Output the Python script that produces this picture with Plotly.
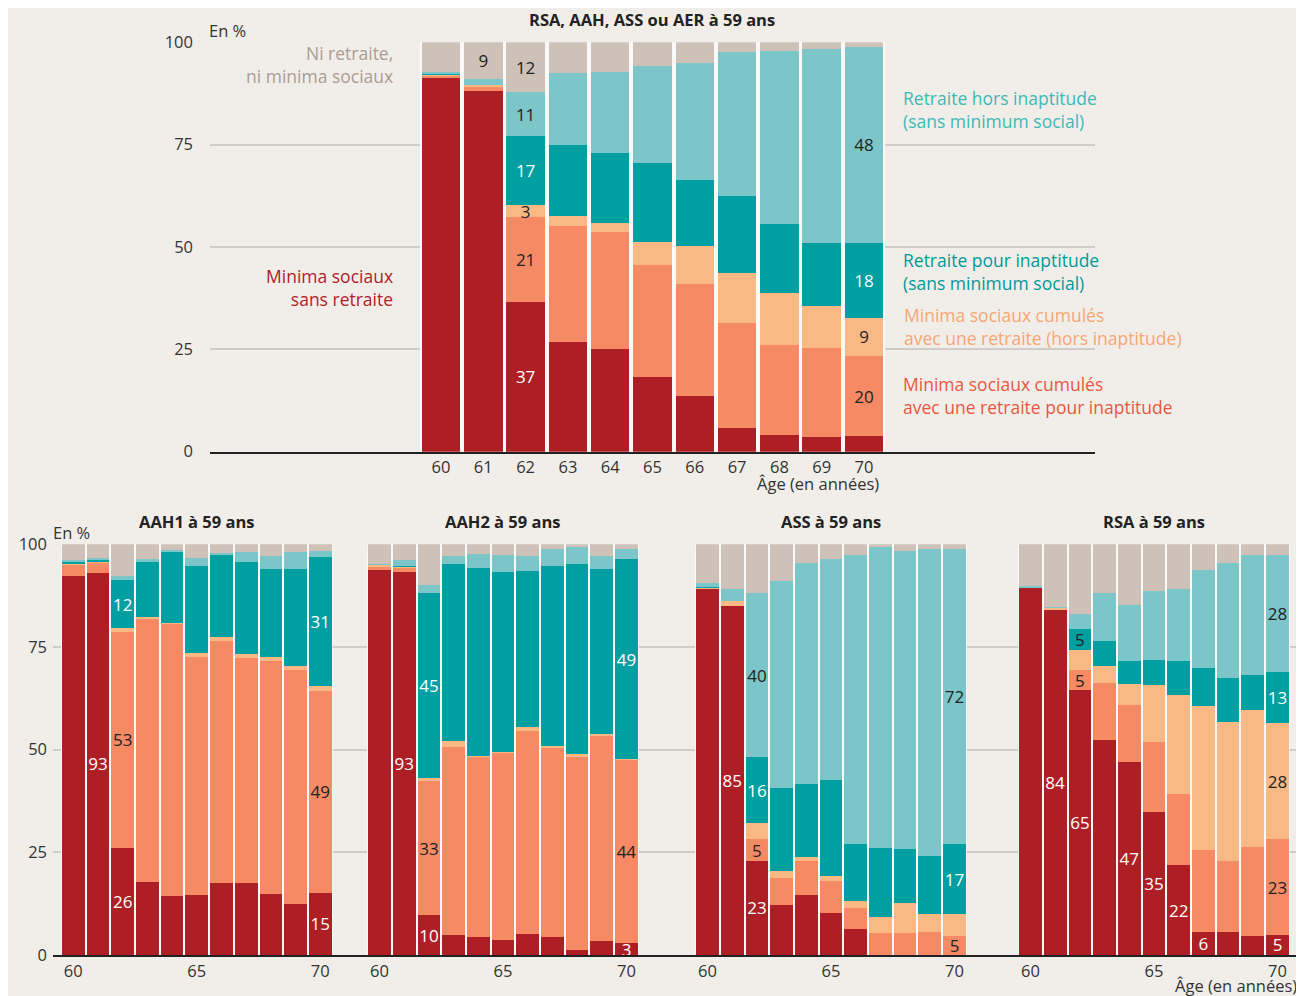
import plotly.graph_objects as go

# ---------------- DATA ----------------
ages = [60, 61, 62, 63, 64, 65, 66, 67, 68, 69, 70]
series_names = ["Minima sociaux sans retraite",
                "Minima sociaux cumulés avec une retraite pour inaptitude",
                "Minima sociaux cumulés avec une retraite (hors inaptitude)",
                "Retraite pour inaptitude (sans minimum social)",
                "Retraite hors inaptitude (sans minimum social)",
                "Ni retraite, ni minima sociaux"]

# Panel: RSA, AAH, ASS ou AER à 59 ans
all_red = [91.2, 88.2, 36.5, 26.9, 25.1, 18.3, 13.6, 5.8, 4.2, 3.5, 3.8]
all_salmon = [0.6, 0.8, 20.8, 28.2, 28.6, 27.2, 27.4, 25.6, 21.9, 21.9, 19.6]
all_lorange = [0.3, 0.5, 2.9, 2.5, 2.2, 5.8, 9.3, 12.3, 12.7, 10.2, 9.3]
all_dteal = [0.2, 0.0, 16.8, 17.3, 17.1, 19.2, 16.1, 18.8, 16.9, 15.5, 18.3]
all_lteal = [0.4, 1.5, 10.8, 17.7, 19.8, 23.6, 28.6, 35.1, 42.2, 47.3, 47.9]
all_gray = [7.3, 9.0, 12.2, 7.4, 7.2, 5.9, 5.0, 2.4, 2.1, 1.6, 1.1]
all_labels = [(0, 62, "37"), (1, 62, "21"), (2, 62, "3"), (3, 62, "17"), (4, 62, "11"),
              (5, 62, "12"), (5, 61, "9"),
              (1, 70, "20"), (2, 70, "9"), (3, 70, "18"), (4, 70, "48")]

# Panel: AAH1 à 59 ans
aah1_red = [92.3, 93.1, 26.1, 17.8, 14.4, 14.6, 17.5, 17.5, 14.9, 12.4, 15.1]
aah1_salmon = [2.8, 2.4, 52.6, 64.1, 66.2, 58.0, 59.0, 54.8, 56.7, 57.0, 49.2]
aah1_lorange = [0.2, 0.2, 0.9, 0.4, 0.2, 0.9, 0.9, 1.0, 1.0, 1.0, 1.2]
aah1_dteal = [0.4, 0.6, 11.7, 13.4, 17.3, 21.2, 20.0, 22.4, 21.4, 23.6, 31.4]
aah1_lteal = [0.5, 0.4, 1.0, 0.7, 0.5, 2.0, 0.5, 2.4, 3.2, 4.1, 1.5]
aah1_gray = [3.8, 3.3, 7.7, 3.6, 1.4, 3.3, 2.1, 1.9, 2.8, 1.9, 1.6]
aah1_labels = [(0, 61, "93"), (0, 62, "26"), (1, 62, "53"), (3, 62, "12"),
               (0, 70, "15"), (1, 70, "49"), (3, 70, "31")]

# Panel: AAH2 à 59 ans
aah2_red = [93.8, 93.3, 9.7, 4.9, 4.4, 3.7, 5.1, 4.4, 1.2, 3.4, 2.9]
aah2_salmon = [0.7, 0.9, 32.7, 45.7, 43.8, 45.5, 49.4, 46.0, 47.0, 49.9, 44.6]
aah2_lorange = [0.5, 0.2, 0.7, 1.5, 0.3, 0.2, 1.0, 0.5, 0.7, 0.5, 0.2]
aah2_dteal = [0.1, 0.3, 45.0, 43.1, 45.7, 43.9, 38.0, 43.8, 46.3, 40.2, 48.7]
aah2_lteal = [0.2, 1.5, 2.0, 2.0, 3.4, 4.1, 3.7, 4.2, 4.2, 3.2, 2.5]
aah2_gray = [4.7, 3.8, 9.9, 2.8, 2.4, 2.6, 2.8, 1.1, 0.6, 2.8, 1.1]
aah2_labels = [(0, 61, "93"), (0, 62, "10"), (1, 62, "33"), (3, 62, "45"),
               (0, 70, "3"), (1, 70, "44"), (3, 70, "49")]

# Panel: ASS à 59 ans
ass_red = [89.1, 85.0, 22.9, 12.2, 14.6, 10.2, 6.3, 0.0, 0.0, 0.0, 0.0]
ass_salmon = [0.1, 0.0, 5.3, 6.6, 8.3, 7.8, 5.1, 5.4, 5.4, 5.6, 4.6]
ass_lorange = [0.2, 1.2, 3.9, 1.7, 1.0, 1.2, 1.7, 3.9, 7.3, 4.4, 5.4]
ass_dteal = [0.2, 0.0, 16.1, 20.2, 17.7, 23.4, 13.9, 16.8, 13.1, 14.1, 17.0]
ass_lteal = [1.0, 2.9, 39.9, 50.4, 53.9, 53.8, 70.4, 73.3, 72.6, 74.8, 71.9]
ass_gray = [9.4, 10.9, 11.9, 8.9, 4.5, 3.6, 2.6, 0.6, 1.6, 1.1, 1.1]
ass_labels = [(0, 61, "85"), (0, 62, "23"), (1, 62, "5"), (3, 62, "16"), (4, 62, "40"),
              (1, 70, "5"), (3, 70, "17"), (4, 70, "72")]

# Panel: RSA à 59 ans
rsa_red = [89.4, 84.0, 64.5, 52.4, 47.0, 34.8, 21.9, 5.6, 5.6, 4.6, 4.9]
rsa_salmon = [0.0, 0.0, 4.9, 13.8, 13.9, 17.1, 17.3, 20.0, 17.3, 21.7, 23.3]
rsa_lorange = [0.0, 0.5, 4.9, 4.2, 5.1, 13.8, 24.1, 35.0, 33.8, 33.4, 28.3]
rsa_dteal = [0.0, 0.0, 5.1, 6.1, 5.6, 6.1, 8.3, 9.3, 10.8, 8.5, 12.4]
rsa_lteal = [0.5, 0.2, 3.6, 11.6, 13.6, 16.8, 17.5, 23.9, 28.0, 29.2, 28.5]
rsa_gray = [10.1, 15.3, 17.0, 11.9, 14.8, 11.4, 10.9, 6.2, 4.5, 2.6, 2.6]
rsa_labels = [(0, 61, "84"), (0, 62, "65"), (1, 62, "5"), (3, 62, "5", "dark"),
              (0, 64, "47"), (0, 65, "35"), (0, 66, "22"), (0, 67, "6"),
              (0, 70, "5"), (1, 70, "23"), (2, 70, "28"), (3, 70, "13"), (4, 70, "28")]

panel_titles = ["RSA, AAH, ASS ou AER à 59 ans", "AAH1 à 59 ans", "AAH2 à 59 ans",
                "ASS à 59 ans", "RSA à 59 ans"]
y_ticks = [0, 25, 50, 75, 100]

# ---------------- STYLE ----------------
W, H = 1304, 996
OX, OY = 8, 8          # page (body) offset of the figure in the browser
BG = "#F1EEEA"
COLORS = ["#AE1F25", "#F58A64", "#F9B985", "#009FA1", "#7CC5C8", "#CEC1B8"]
LABEL_COLORS = ["white", "#222222", "#222222", "white", "#222222", "#222222"]
DARK = "#222222"
FONT = "Open Sans"
GRID = "#CFCCC9"


def px(x):
    return (x - OX) / W


def py(y):
    return 1 - (y - OY) / H


panels = [
    ([all_red, all_salmon, all_lorange, all_dteal, all_lteal, all_gray], all_labels),
    ([aah1_red, aah1_salmon, aah1_lorange, aah1_dteal, aah1_lteal, aah1_gray], aah1_labels),
    ([aah2_red, aah2_salmon, aah2_lorange, aah2_dteal, aah2_lteal, aah2_gray], aah2_labels),
    ([ass_red, ass_salmon, ass_lorange, ass_dteal, ass_lteal, ass_gray], ass_labels),
    ([rsa_red, rsa_salmon, rsa_lorange, rsa_dteal, rsa_lteal, rsa_gray], rsa_labels),
]

# pixel geometry: (domain left px, domain right px, centre px of age 60, spacing px)
geo = [
    (210, 1095, 441.0, 42.3),
    (53, 350, 73.3, 24.7),
    (350, 667, 379.5, 24.7),
    (667, 994, 707.5, 24.7),
    (994, 1300, 1030.5, 24.7),
]
top_y = (451.7, 42.3)   # pixel of 0 and 100
bot_y = (955.0, 544.3)

fig = go.Figure()
layout = dict()
shapes = []
annotations = []

for p, (series, labels) in enumerate(panels):
    axn = "" if p == 0 else str(p + 1)
    xref, yref = "x" + axn, "y" + axn
    lab = {}
    for item in labels:
        lab[(item[0], item[1])] = item
    for s, vals in enumerate(series):
        texts, tcols = [], []
        for a in ages:
            item = lab.get((s, a))
            if item:
                texts.append(item[2])
                tcols.append(DARK if len(item) > 3 else LABEL_COLORS[s])
            else:
                texts.append("")
                tcols.append(LABEL_COLORS[s])
        fig.add_trace(go.Bar(
            x=ages, y=vals, xaxis=xref, yaxis=yref, name=series_names[s],
            marker=dict(color=COLORS[s], line=dict(width=0)),
            width=0.91 if p == 0 else 0.92,
            text=texts, textposition="inside", insidetextanchor="middle",
            textangle=0, textfont=dict(family=FONT, size=17, color=tcols),
            hoverinfo="skip", showlegend=False,
        ))
    l, r, c60, sp = geo[p]
    xr = [ages[0] + (l - c60) / sp, ages[0] + (r - c60) / sp]
    y0, y100 = top_y if p == 0 else bot_y
    layout["xaxis" + axn] = dict(
        domain=[px(l), px(r)], range=xr, anchor=yref,
        tickvals=ages if p == 0 else [60, 65, 70],
        ticks="", showgrid=False, zeroline=False,
        showline=True, linecolor=DARK, linewidth=1.5,
        tickfont=dict(family=FONT, size=16.5, color="#333333"),
        ticklabelstandoff=0, fixedrange=True,
    )
    layout["yaxis" + axn] = dict(
        domain=[py(y0), py(y100)], range=[0, 100], anchor=xref,
        tickvals=y_ticks, showticklabels=(p <= 1), ticks="",
        showgrid=True, gridcolor=GRID, gridwidth=1.5, zeroline=False,
        tickfont=dict(family=FONT, size=16.5, color="#333333"),
        ticklabelstandoff=16 if p == 0 else 5, fixedrange=True,
    )
    # white background behind the bar block (gaps between bars appear white)
    shapes.append(dict(type="rect", xref=xref, yref=yref, layer="between",
                       x0=ages[0] - 0.5, x1=ages[-1] + 0.5, y0=0, y1=100,
                       fillcolor="#FAF9F7", line=dict(width=0)))
    # panel title
    if p == 0:
        annotations.append(dict(text="<b>" + panel_titles[p] + "</b>", x=px(652), y=py(19),
                                xref="paper", yref="paper", showarrow=False,
                                xanchor="center", yanchor="middle",
                                font=dict(family=FONT, size=16.5, color="#222222")))
    else:
        annotations.append(dict(text="<b>" + panel_titles[p] + "</b>", x=65, y=py(521),
                                xref=xref, yref="paper", showarrow=False,
                                xanchor="center", yanchor="middle",
                                font=dict(family=FONT, size=16.5, color="#222222")))

# "En %" and axis titles
annotations += [
    dict(text="En %", x=px(207), y=py(30), xanchor="left", yanchor="middle",
         xref="paper", yref="paper",
         showarrow=False, font=dict(family=FONT, size=16.5, color="#333333")),
    dict(text="En %", x=px(51), y=py(532), xanchor="left", yanchor="middle",
         xref="paper", yref="paper",
         showarrow=False, font=dict(family=FONT, size=16.5, color="#333333")),
    dict(text="Âge (en années)", x=px(881), y=py(484), xanchor="right", yanchor="middle",
         xref="paper", yref="paper", showarrow=False,
         font=dict(family=FONT, size=16.5, color="#333333")),
    dict(text="Âge (en années)", x=px(1299), y=py(985), xanchor="right", yanchor="middle",
         xref="paper", yref="paper", showarrow=False,
         font=dict(family=FONT, size=16.5, color="#333333")),
]

# legend-like labels on top panel
leg = [
    ("Ni retraite,<br>ni minima sociaux", 395, 64, "right", "#A99C93"),
    ("Minima sociaux<br>sans retraite", 395, 288, "right", "#B02228"),
    ("Retraite hors inaptitude<br>(sans minimum social)", 901, 110, "left", "#3DB9B5"),
    ("Retraite pour inaptitude<br>(sans minimum social)", 901, 272, "left", "#00999B"),
    ("Minima sociaux cumulés<br>avec une retraite (hors inaptitude)", 902, 326, "left", "#F7A673"),
    ("Minima sociaux cumulés<br>avec une retraite pour inaptitude", 901, 396, "left", "#E9573F"),
]
for t, x, y, anc, col in leg:
    annotations.append(dict(text=t, x=px(x), y=py(y), xanchor=anc, yanchor="middle",
                            align=anc, xref="paper", yref="paper", showarrow=False,
                            font=dict(family=FONT, size=17.5, color=col)))

fig.update_layout(
    width=W, height=H, margin=dict(l=0, r=0, t=0, b=0, pad=0, autoexpand=False),
    paper_bgcolor=BG, plot_bgcolor=BG, barmode="stack",
    bargap=0.08, showlegend=False,
    uniformtext=dict(minsize=17, mode="show"),
    shapes=shapes, annotations=annotations, **layout,
)

fig.write_html("out.html")
